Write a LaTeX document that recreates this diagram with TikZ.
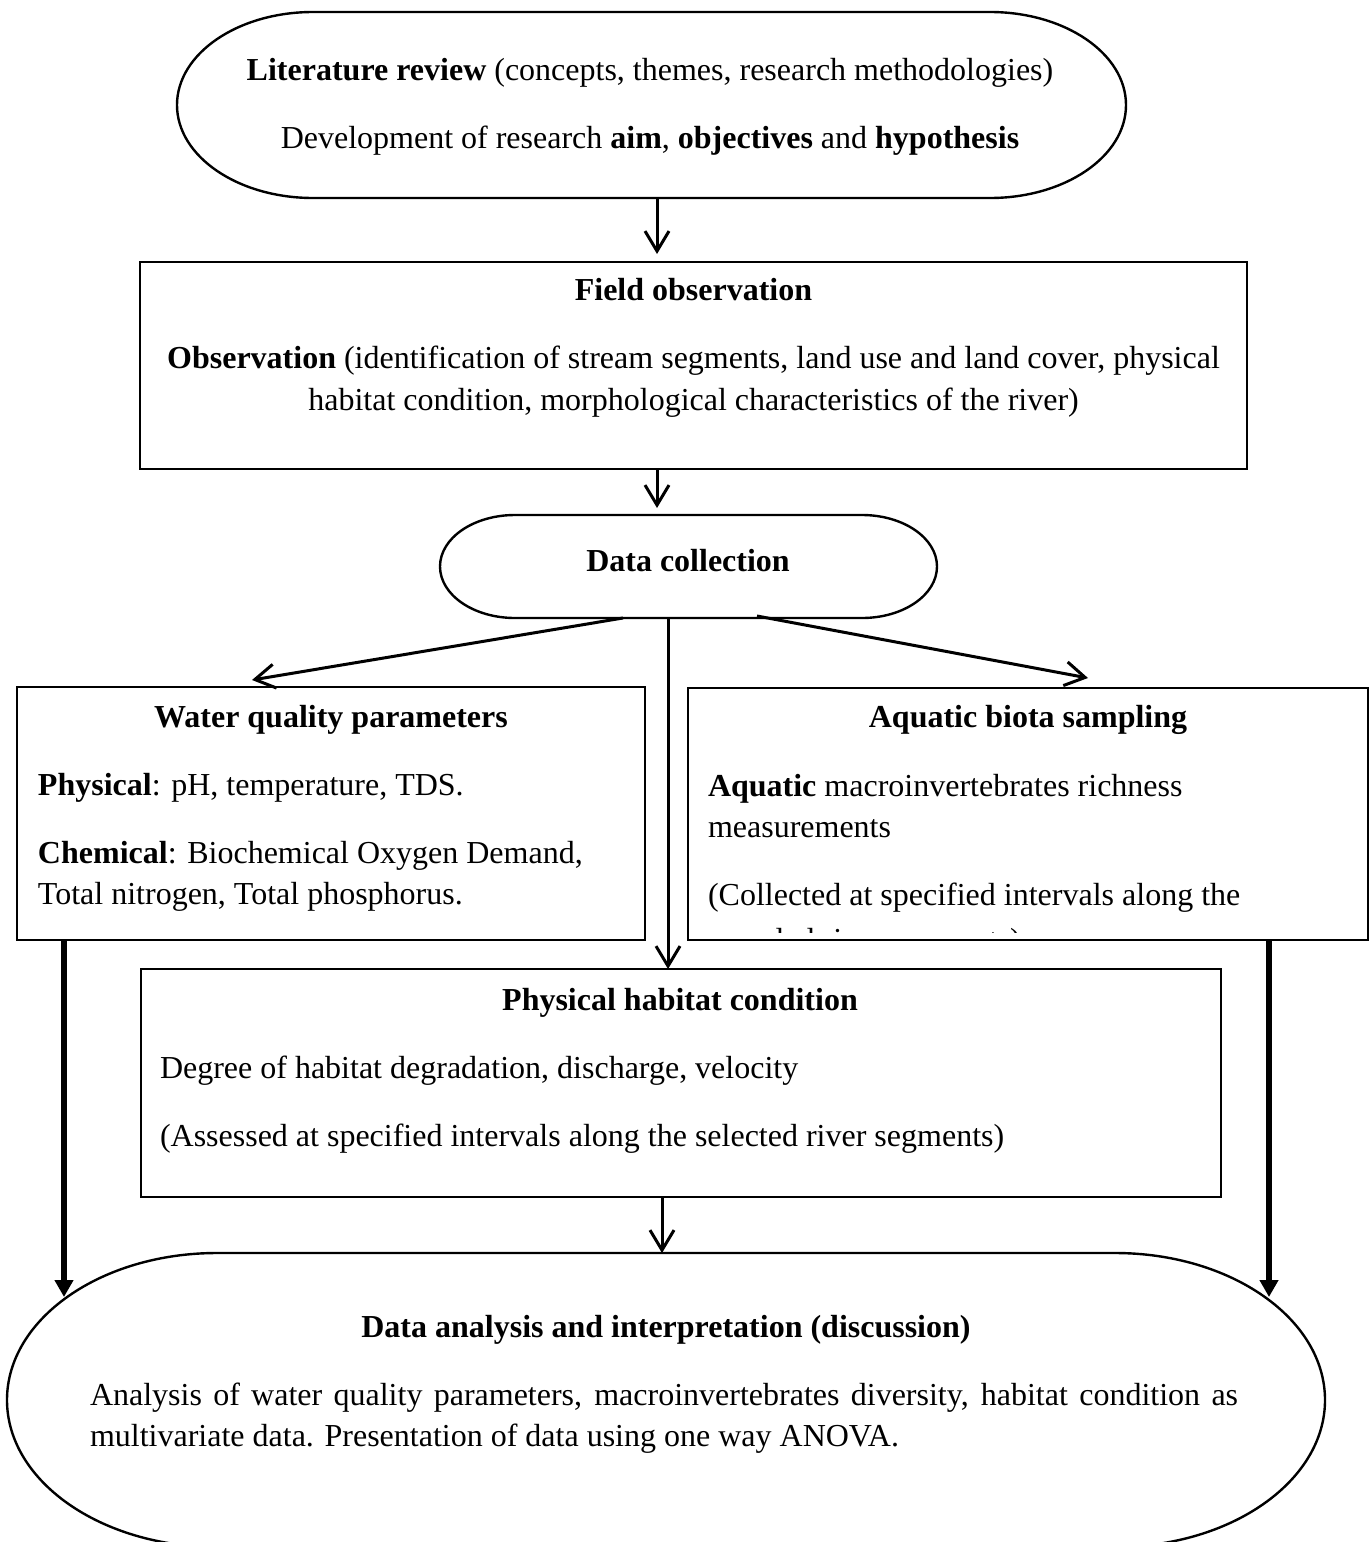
\documentclass[tikz,border=0pt]{standalone}
\usepackage{fontspec}
\setmainfont{Liberation Serif}
\usetikzlibrary{arrows.meta}
\begin{document}
\begin{tikzpicture}[x=0.5pt,y=-0.5pt,
  boxshape/.style={draw, line width=0.7pt, inner sep=0pt, outer sep=0pt},
  hold/.style={inner sep=0pt, outer sep=0pt},
  ovalline/.style={line width=1.2pt},
  txt/.style={inner sep=0pt, outer sep=0pt, font=\fontsize{16pt}{20pt}\selectfont},
  thinarrow/.style={line width=1.5pt, -{Straight Barb[length=10pt,width=12pt]}},
  thickarrow/.style={line width=2.75pt, -{Triangle[length=8.5pt,width=9pt]}},
]
\useasboundingbox[fill=white] (0,0) rectangle (1371,1542);

% --- shapes ---
\node[hold, minimum width=474.5pt, minimum height=93pt] (lit) at (651.5,105) {};
\draw[ovalline] (313,12) -- (990,12) arc[start angle=-90,end angle=90,x radius=136,y radius=93]
  -- (313,198) arc[start angle=90,end angle=270,x radius=136,y radius=93] -- cycle;

\node[boxshape, minimum width=553.5pt, minimum height=103.5pt] (field) at (693.5,365.5) {};

\node[hold, minimum width=248.5pt, minimum height=51.5pt] (dc) at (688.5,566.5) {};
\draw[ovalline] (515,515) -- (862,515) arc[start angle=-90,end angle=90,x radius=75,y radius=51.5]
  -- (515,618) arc[start angle=90,end angle=270,x radius=75,y radius=51.5] -- cycle;

\node[boxshape, minimum width=314pt, minimum height=126.5pt] (water) at (331,813.5) {};
\node[boxshape, minimum width=340pt, minimum height=126pt] (aqua) at (1028,814) {};
\node[boxshape, minimum width=540pt, minimum height=114pt] (phys) at (681,1083) {};

\node[hold, minimum width=659pt, minimum height=147pt] (da) at (666,1400) {};
\draw[ovalline] (217,1253) -- (1115,1253) arc[start angle=-90,end angle=90,x radius=210,y radius=147]
  -- (217,1547) arc[start angle=90,end angle=270,x radius=210,y radius=147] -- cycle;

% --- texts ---
\node[txt, anchor=base] (tlit1) at (650,80) {\textbf{Literature review} (concepts, themes, research methodologies)};
\node[txt, anchor=base] (tlit2) at (650,148) {Development of research \textbf{aim}, \textbf{objectives} and \textbf{hypothesis}};

\node[txt, anchor=base] (tf1) at (693.5,300) {\textbf{Field observation}};
\node[txt, anchor=base] (tf2) at (693.5,368) {\textbf{Observation} (identification of stream segments, land use and land cover, physical};
\node[txt, anchor=base] (tf3) at (693.5,410) {habitat condition, morphological characteristics of the river)};

\node[txt, anchor=base] (tdc) at (688,571) {\textbf{Data collection}};

\node[txt, anchor=base] (tw1) at (331,727) {\textbf{Water quality parameters}};
\node[txt, anchor=base west] (tw2) at (38,795) {\textbf{Physical}: pH, temperature, TDS.};
\node[txt, anchor=base west] (tw3) at (38,863) {\textbf{Chemical}: Biochemical Oxygen Demand,};
\node[txt, anchor=base west] (tw4) at (38,904) {Total nitrogen, Total phosphorus.};

\node[txt, anchor=base] (ta1) at (1028,727) {\textbf{Aquatic biota sampling}};
\node[txt, anchor=base west] (ta2) at (708,796) {\textbf{Aquatic} macroinvertebrates richness};
\node[txt, anchor=base west] (ta3) at (708,837) {measurements};
\node[txt, anchor=base west] (ta4) at (708,905) {(Collected at specified intervals along the};
\begin{scope}
  \clip (688,688) rectangle (1368,932);
  \node[txt, anchor=base west] (ta5) at (708,950) {sampled river segments)};
\end{scope}

\node[txt, anchor=base] (tp1) at (680,1010) {\textbf{Physical habitat condition}};
\node[txt, anchor=base west] (tp2) at (160,1078) {Degree of habitat degradation, discharge, velocity};
\node[txt, anchor=base west] (tp3) at (160,1146) {(Assessed at specified intervals along the selected river segments)};

\node[txt, anchor=base] (td1) at (666,1337) {\textbf{Data analysis and interpretation (discussion)}};
\node[txt, anchor=base west] (td2) at (90,1405) {\makebox[574pt][s]{Analysis of water quality parameters, macroinvertebrates diversity, habitat condition as}};
\node[txt, anchor=base west] (td3) at (90,1446) {multivariate data. Presentation of data using one way ANOVA.};

% --- connectors ---
\draw[thinarrow, shorten >=4pt] ([xshift=2.75pt]lit.south) -- ([xshift=2.75pt]lit.south |- field.north);
\draw[thinarrow, shorten >=3.5pt] ([xshift=-18.25pt]field.south) -- ([xshift=-18.25pt]field.south |- dc.north);
\draw[thinarrow] ([xshift=-32.75pt]dc.south) -- ([xshift=-39.5pt,yshift=3.5pt]water.north);
\draw[thinarrow] ([xshift=-10.25pt]dc.south) -- ([xshift=-10.25pt]dc.south |- phys.north);
\draw[thinarrow] ([xshift=34.25pt,yshift=1pt]dc.south) -- ([xshift=30pt,yshift=5pt]aqua.north);
\draw[thinarrow] ([xshift=-9.5pt]phys.south) -- ([xshift=-9.5pt]phys.south |- da.north);

\coordinate (dal) at (64,1297);
\coordinate (dar) at (1269,1297);
\draw[thickarrow] ([xshift=-133.5pt]water.south) -- (dal);
\draw[thickarrow] ([xshift=120.5pt]aqua.south) -- (dar);
\end{tikzpicture}
\end{document}
